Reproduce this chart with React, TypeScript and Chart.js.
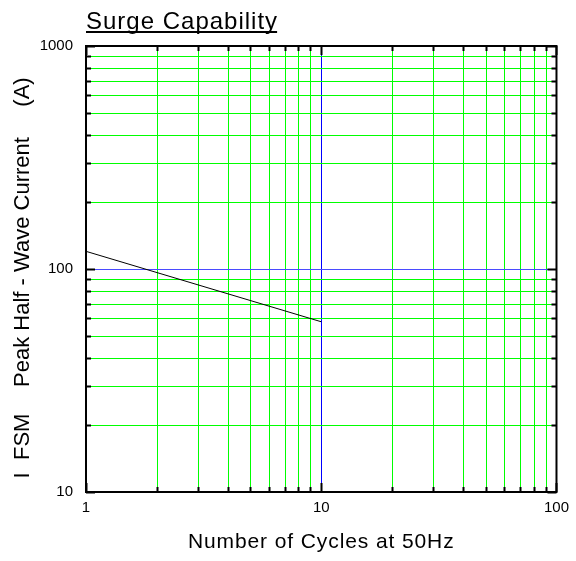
import React, { useEffect, useRef } from "react";
import { Chart, registerables } from "chart.js";

Chart.register(...registerables);

// ---- data ----
const cycles = [1, 10];
const peakCurrent = [120, 58];

const xTickValues = [1, 2, 3, 4, 5, 6, 7, 8, 9, 10, 20, 30, 40, 50, 60, 70, 80, 90, 100];
const yTickValues = [10, 20, 30, 40, 50, 60, 70, 80, 90, 100, 200, 300, 400, 500, 600, 700, 800, 900, 1000];
const xLabelValues = [1, 10, 100];
const yLabelValues = [10, 100, 1000];
const xBlueValue = 10;
const yBlueValue = 100;

const titleText = "Surge Capability";
const xAxisTitle = "Number of Cycles at 50Hz";
const yTitleParts = ["I  FSM", "Peak Half - Wave Current", "(A)"];
const yTitleCenters = [446, 262, 92];

const FONT = '"Liberation Sans", Arial, Helvetica, sans-serif';

const gridPlugin = {
  id: "customGrid",
  beforeDatasetsDraw(chart: any) {
    const { ctx, chartArea: a, scales } = chart;
    const xs = scales.x;
    const ys = scales.y;
    ctx.save();
    ctx.lineWidth = 1;
    for (const v of xTickValues) {
      if (v === 1 || v === 100) continue;
      const px = Math.round(xs.getPixelForValue(v)) + 0.5;
      ctx.strokeStyle = v === xBlueValue ? "#0000ff" : "#00ff00";
      ctx.beginPath();
      ctx.moveTo(px, a.top);
      ctx.lineTo(px, a.bottom);
      ctx.stroke();
    }
    for (const v of yTickValues) {
      if (v === 10 || v === 1000) continue;
      const py = Math.round(ys.getPixelForValue(v)) + 0.5;
      ctx.strokeStyle = v === yBlueValue ? "#4a4aff" : "#00ff00";
      ctx.beginPath();
      ctx.moveTo(a.left, py);
      ctx.lineTo(a.right, py);
      ctx.stroke();
    }
    ctx.restore();
  },
};

const decorPlugin = {
  id: "decor",
  afterDraw(chart: any) {
    const { ctx, chartArea: a, scales } = chart;
    const xs = scales.x;
    const ys = scales.y;
    ctx.save();
    // inner tick marks
    ctx.strokeStyle = "#000";
    ctx.lineWidth = 2;
    ctx.beginPath();
    for (const v of xTickValues) {
      const px = Math.round(xs.getPixelForValue(v)) + 0.5;
      const len = xLabelValues.includes(v) ? 9 : 5;
      ctx.moveTo(px, a.bottom);
      ctx.lineTo(px, a.bottom - len);
      ctx.moveTo(px, a.top);
      ctx.lineTo(px, a.top + len);
    }
    for (const v of yTickValues) {
      const py = Math.round(ys.getPixelForValue(v)) + 0.5;
      const len = yLabelValues.includes(v) ? 9 : 5;
      ctx.moveTo(a.left, py);
      ctx.lineTo(a.left + len, py);
      ctx.moveTo(a.right, py);
      ctx.lineTo(a.right - len, py);
    }
    ctx.stroke();
    // frame
    ctx.lineWidth = 2;
    ctx.strokeRect(a.left, a.top, a.right - a.left, a.bottom - a.top);

    ctx.fillStyle = "#000";
    // title
    ctx.font = `24px ${FONT}`;
    (ctx as any).letterSpacing = "1px";
    ctx.textAlign = "left";
    ctx.textBaseline = "alphabetic";
    ctx.fillText(titleText, a.left, 29);
    const tw = ctx.measureText(titleText).width - 1;
    ctx.fillRect(a.left, 31, tw, 2);

    // x axis title
    ctx.font = `21px ${FONT}`;
    (ctx as any).letterSpacing = "0.9px";
    ctx.textAlign = "center";
    ctx.fillText(xAxisTitle, (a.left + a.right) / 2, 548);

    // y axis title
    (ctx as any).letterSpacing = "0px";
    ctx.font = `22px ${FONT}`;
    yTitleParts.forEach((t, i) => {
      ctx.save();
      ctx.translate(29, yTitleCenters[i]);
      ctx.rotate(-Math.PI / 2);
      ctx.textAlign = "center";
      ctx.textBaseline = "alphabetic";
      ctx.fillText(t, 0, 0);
      ctx.restore();
    });
    ctx.restore();
  },
};

export default function App() {
  const ref = useRef<HTMLCanvasElement>(null);
  useEffect(() => {
    const chart = new Chart(ref.current as HTMLCanvasElement, {
      type: "line",
      data: {
        datasets: [
          {
            data: cycles.map((c, i) => ({ x: c, y: peakCurrent[i] })),
            borderColor: "#000",
            borderWidth: 1,
            pointRadius: 0,
            fill: false,
          },
        ],
      },
      options: {
        responsive: false,
        animation: false,
        devicePixelRatio: 1,
        layout: { padding: { top: 46, right: 16, left: 0, bottom: 0 } },
        plugins: { legend: { display: false }, tooltip: { enabled: false } },
        scales: {
          x: {
            type: "logarithmic",
            min: 1,
            max: 100,
            afterFit: (s: any) => {
              s.height = 69;
            },
            afterBuildTicks: (s: any) => {
              s.ticks = xTickValues.map((v) => ({ value: v, major: xLabelValues.includes(v) }));
            },
            border: { display: false },
            grid: { display: false, drawTicks: false },
            ticks: {
              autoSkip: false,
              maxRotation: 0,
              padding: 7,
              color: "#000",
              font: { family: FONT, size: 15 },
              callback: (v: any) => (xLabelValues.includes(Number(v)) ? String(v) : ""),
            },
          },
          y: {
            type: "logarithmic",
            min: 10,
            max: 1000,
            afterFit: (s: any) => {
              s.width = 86;
            },
            afterBuildTicks: (s: any) => {
              s.ticks = yTickValues.map((v) => ({ value: v, major: yLabelValues.includes(v) }));
            },
            border: { display: false },
            grid: { display: false, drawTicks: false },
            ticks: {
              autoSkip: false,
              padding: 13,
              color: "#000",
              font: { family: FONT, size: 15 },
              callback: (v: any) => (yLabelValues.includes(Number(v)) ? String(v) : ""),
            },
          },
        },
      },
      plugins: [gridPlugin, decorPlugin],
    });
    return () => chart.destroy();
  }, []);
  return (
    <div style={{ position: "fixed", left: 0, top: 0, width: 576, height: 561, background: "#fff" }}>
      <canvas ref={ref} width={576} height={561} style={{ display: "block" }} />
    </div>
  );
}
